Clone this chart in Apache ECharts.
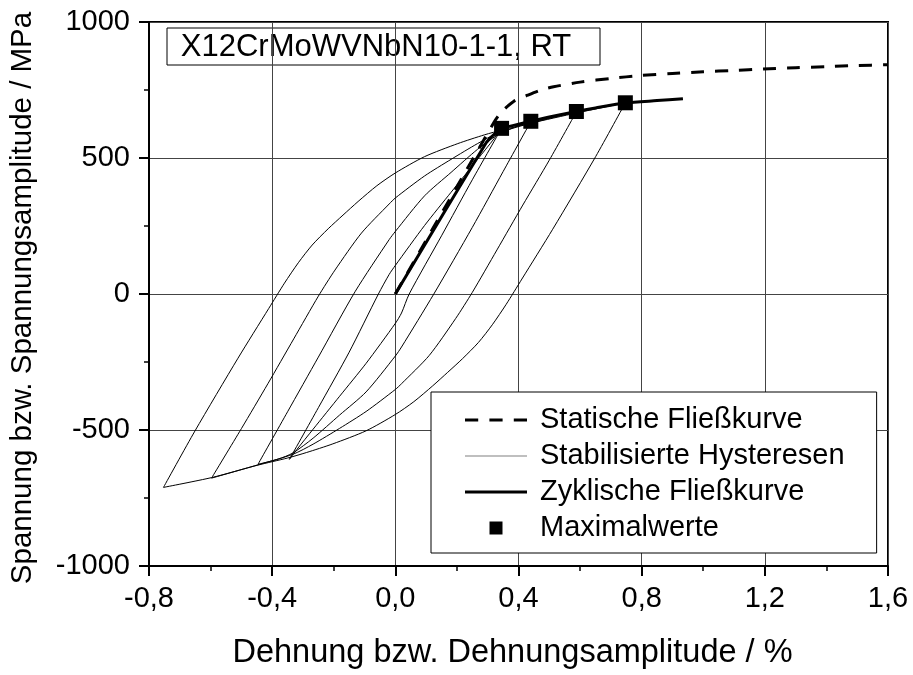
<!DOCTYPE html>
<html>
<head>
<meta charset="utf-8">
<script src="https://cdn.jsdelivr.net/npm/echarts@6/dist/echarts.min.js"></script>
<style>
  html, body { margin: 0; padding: 0; background: #fff; }
  #chart { width: 913px; height: 675px; }
</style>
</head>
<body>
<div id="chart"></div>
<script>
// Strain in %, stress in MPa

// Tick labels (German decimal comma)
const xTickLabels = ['-0,8', '-0,4', '0,0', '0,4', '0,8', '1,2', '1,6'];
const yTickLabels = ['-1000', '-500', '0', '500', '1000'];

// Static (monotonic) flow curve
const staticStrain = [0, 0.321, 0.343, 0.384, 0.43, 0.47, 0.514, 0.6, 0.704, 0.795, 0.9, 1.0, 1.1, 1.194, 1.3, 1.4, 1.5, 1.6];
const staticStress = [0, 632, 667, 708, 731, 749, 762, 779, 793, 803, 811, 817, 822, 827, 832, 836, 840, 843];

// Cyclic flow curve
const cyclicStrain = [0, 0.295, 0.315, 0.332, 0.345, 0.4, 0.44, 0.5, 0.588, 0.65, 0.747, 0.85, 0.934];
const cyclicStress = [0, 556, 581, 598, 609, 624, 635, 651, 671, 684, 702, 711, 718];

// Peak values of the stabilised loops
const peakStrain = [0.345, 0.44, 0.588, 0.747];
const peakStress = [609, 635, 671, 703];

// Stabilised hysteresis loops: rising (asc) and falling (desc) branches
const loop1AscStrain = [-0.344, -0.25, -0.15, -0.055, -0.02, 0, 0.095, 0.181, 0.267, 0.32, 0.345];
const loop1AscStress = [-608, -418, -214, 0, 72, 105, 252, 374, 495, 570, 609];
const loop1DescStrain = [0.345, 0.25, 0.15, 0.045, 0.02, 0, -0.095, -0.181, -0.267, -0.32, -0.344];
const loop1DescStress = [609, 420, 214, 0, -70, -108, -255, -376, -497, -572, -608];

const loop2AscStrain = [-0.446, -0.35, -0.25, -0.13, -0.02, 0, 0.095, 0.181, 0.267, 0.332, 0.38, 0.44];
const loop2AscStress = [-626, -433, -232, 10, 200, 230, 361, 447, 532, 585, 610, 634];
const loop2DescStrain = [0.44, 0.35, 0.25, 0.125, 0.02, 0, -0.095, -0.181, -0.267, -0.332, -0.38, -0.446];
const loop2DescStress = [634, 450, 245, 0, -195, -228, -360, -445, -530, -584, -607, -626];

const loop3AscStrain = [-0.597, -0.5, -0.414, -0.33, -0.25, -0.196, -0.11, -0.02, 0, 0.095, 0.181, 0.267, 0.332, 0.44, 0.588];
const loop3AscStress = [-677, -495, -330, -165, -8, 88, 224, 331, 353, 434, 495, 553, 591, 628, 670];
const loop3DescStrain = [0.588, 0.5, 0.414, 0.33, 0.25, 0.196, 0.11, 0.02, 0, -0.095, -0.181, -0.267, -0.332, -0.44, -0.597];
const loop3DescStress = [670, 492, 327, 162, 6, -90, -226, -330, -351, -432, -494, -552, -589, -626, -677];

const loop4AscStrain = [-0.753, -0.651, -0.511, -0.411, -0.36, -0.315, -0.27, -0.218, -0.17, -0.121, -0.06, 0, 0.095, 0.203, 0.289, 0.35, 0.44, 0.59, 0.747];
const loop4AscStress = [-711, -504, -236, -53, 40, 115, 180, 240, 290, 340, 398, 445, 505, 553, 585, 604, 628, 666, 703];
const loop4DescStrain = [0.747, 0.651, 0.511, 0.411, 0.36, 0.315, 0.27, 0.218, 0.17, 0.121, 0.06, 0, -0.095, -0.203, -0.289, -0.35, -0.446, -0.597, -0.753];
const loop4DescStress = [703, 506, 238, 55, -38, -113, -178, -238, -288, -338, -396, -443, -503, -551, -583, -603, -629, -675, -711];

const FONT = '"Liberation Sans", Arial, sans-serif';
const pairs = (xs, ys) => xs.map((x, i) => [x, ys[i]]);

const NAME_STATIC = 'Statische Fließkurve';
const NAME_LOOPS = 'Stabilisierte Hysteresen';
const NAME_CYCLIC = 'Zyklische Fließkurve';
const NAME_PEAKS = 'Maximalwerte';

// Legend glyphs: dashed bar, thin bar, thick bar, filled square
const ICON_DASHED = 'path://M0 0h13v3h-13z M24 0h13v3h-13z M48 0h13v3h-13z';
const ICON_THIN = 'path://M0 0h62v1h-62z';
const ICON_THICK = 'path://M0 0h62v3h-62z';
const ICON_SQUARE = 'path://M0 0h13v13h-13z';

const branches = [
  [loop1AscStrain, loop1AscStress], [loop1DescStrain, loop1DescStress],
  [loop2AscStrain, loop2AscStress], [loop2DescStrain, loop2DescStress],
  [loop3AscStrain, loop3AscStress], [loop3DescStrain, loop3DescStress],
  [loop4AscStrain, loop4AscStress], [loop4DescStrain, loop4DescStress]
];

const loopSeries = branches.map(([xs, ys]) => ({
  name: NAME_LOOPS,
  type: 'line',
  data: pairs(xs, ys),
  showSymbol: false,
  symbol: 'none',
  smooth: 0.25,
  color: '#000',
  lineStyle: { color: '#000', width: 1 },
  z: 2
}));

const chart = echarts.init(document.getElementById('chart'), null, { renderer: 'canvas' });

chart.setOption({
  animation: false,
  backgroundColor: '#fff',
  grid: {
    left: 145, top: 22, width: 743, height: 547,
    show: true, borderColor: '#000', borderWidth: 2, backgroundColor: 'transparent'
  },
  xAxis: {
    type: 'value',
    min: -0.8, max: 1.6, interval: 0.4,
    axisLine: { show: true, onZero: false, lineStyle: { color: '#000', width: 2 } },
    axisTick: { show: true, length: 10, lineStyle: { color: '#000', width: 2 } },
    minorTick: { show: true, splitNumber: 2, length: 5, lineStyle: { color: '#000', width: 1.5 } },
    splitLine: { show: true, lineStyle: { color: '#444', width: 1 } },
    axisLabel: {
      margin: 18, fontSize: 29, color: '#000', fontFamily: FONT,
      formatter: (v, i) => xTickLabels[i]
    },
    name: 'Dehnung bzw. Dehnungsamplitude / %',
    nameLocation: 'middle', nameGap: 71,
    nameTextStyle: { fontSize: 32.5, color: '#000', fontFamily: FONT, padding: [0, 12, 0, 0] }
  },
  yAxis: {
    type: 'value',
    min: -1000, max: 1000, interval: 500,
    axisLine: { show: true, onZero: false, lineStyle: { color: '#000', width: 2 } },
    axisTick: { show: true, length: 10, lineStyle: { color: '#000', width: 2 } },
    minorTick: { show: true, splitNumber: 2, length: 5, lineStyle: { color: '#000', width: 1.5 } },
    splitLine: { show: true, lineStyle: { color: '#444', width: 1 } },
    axisLabel: {
      margin: 19, fontSize: 29, color: '#000', fontFamily: FONT,
      formatter: (v, i) => yTickLabels[i]
    },
    name: 'Spannung bzw. Spannungsamplitude / MPa',
    nameLocation: 'middle', nameGap: 111, nameRotate: 90,
    nameTextStyle: { fontSize: 29.5, color: '#000', fontFamily: FONT, padding: [0, 8, 0, 0] }
  },
  legend: {
    orient: 'vertical',
    left: 431, top: 392,
    padding: [13, 32, 10, 34],
    itemWidth: 62, itemHeight: 13, itemGap: 6,
    symbolKeepAspect: true,
    backgroundColor: '#fff', borderColor: '#000', borderWidth: 1,
    selectedMode: false,
    textStyle: { fontSize: 29, lineHeight: 30, color: '#000', fontFamily: FONT, padding: [0, 0, 0, 8] },
    data: [
      { name: NAME_STATIC, icon: ICON_DASHED, itemStyle: { color: '#000' } },
      { name: NAME_LOOPS, icon: ICON_THIN, itemStyle: { color: '#808080' } },
      { name: NAME_CYCLIC, icon: ICON_THICK, itemStyle: { color: '#000' } },
      { name: NAME_PEAKS, icon: ICON_SQUARE, itemStyle: { color: '#000' } }
    ]
  },
  graphic: [{
    type: 'group',
    z: 50,
    children: [
      {
        type: 'rect',
        shape: { x: 167, y: 28, width: 433, height: 37 },
        style: { fill: '#fff', stroke: '#000', lineWidth: 1 }
      },
      {
        type: 'text',
        x: 376, y: 47,
        style: {
          text: 'X12CrMoWVNbN10-1-1, RT',
          fontSize: 31, fontFamily: FONT, fill: '#000',
          align: 'center', verticalAlign: 'middle'
        }
      }
    ]
  }],
  series: [
    ...loopSeries,
    {
      name: NAME_STATIC,
      type: 'line',
      data: pairs(staticStrain, staticStress),
      showSymbol: false,
      symbol: 'none',
      smooth: 0.25,
      color: '#000',
      lineStyle: { color: '#000', width: 3, type: [13, 11] },
      z: 3
    },
    {
      name: NAME_CYCLIC,
      type: 'line',
      data: pairs(cyclicStrain, cyclicStress),
      showSymbol: false,
      symbol: 'none',
      smooth: 0.25,
      color: '#000',
      lineStyle: { color: '#000', width: 3 },
      z: 4
    },
    {
      name: NAME_PEAKS,
      type: 'line',
      data: pairs(peakStrain, peakStress),
      symbol: 'rect',
      symbolSize: 15,
      showSymbol: true,
      color: '#000',
      itemStyle: { color: '#000' },
      lineStyle: { color: 'rgba(0,0,0,0)', width: 1 },
      z: 5
    }
  ]
});
</script>
</body>
</html>
